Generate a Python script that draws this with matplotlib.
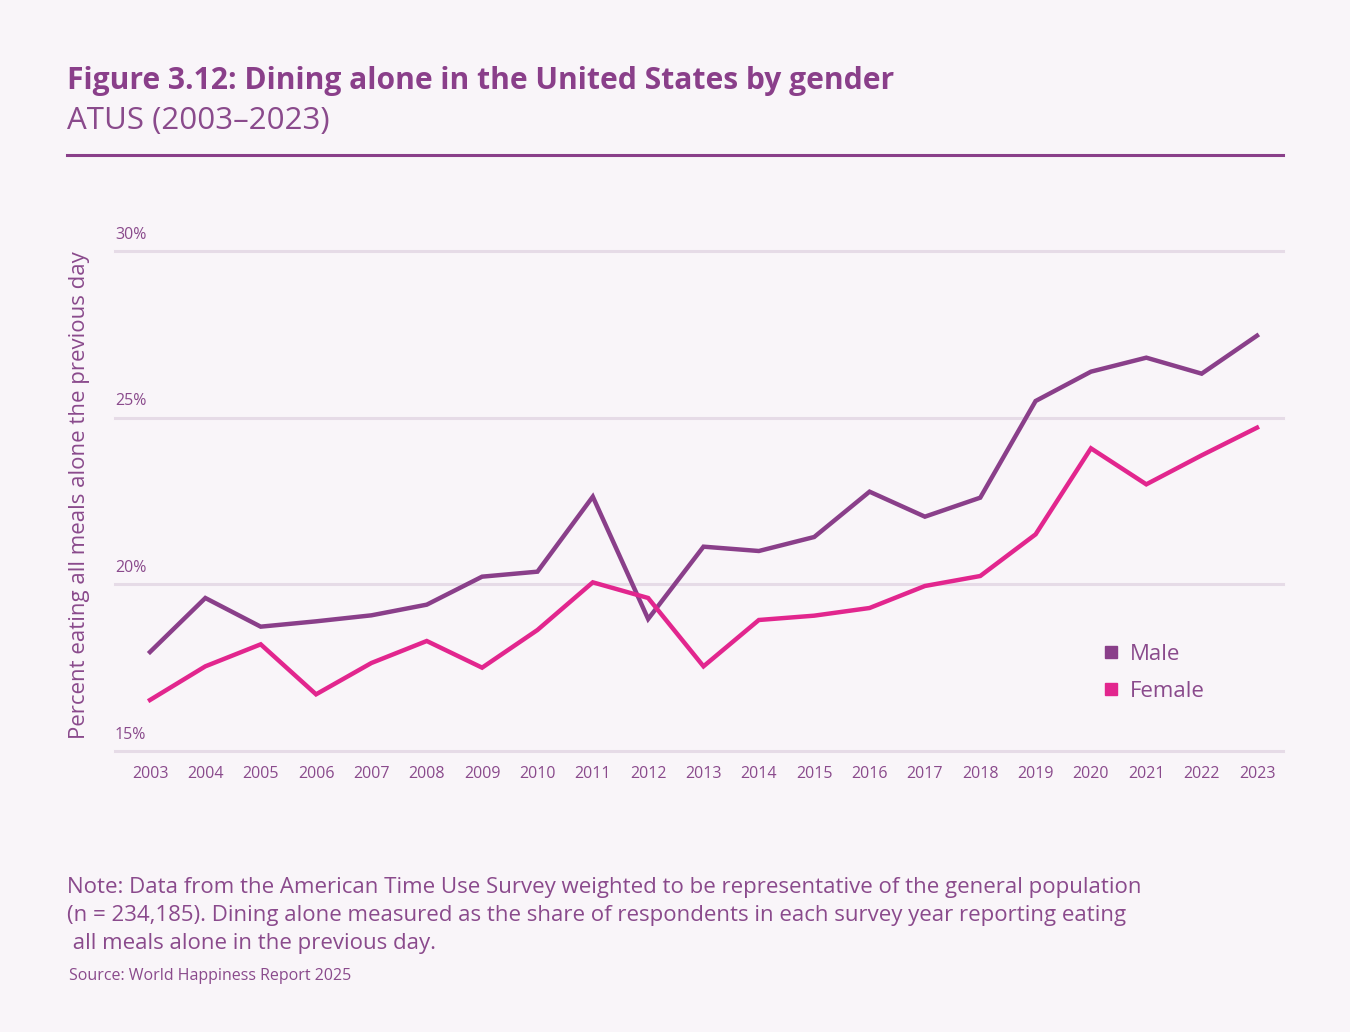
import matplotlib
matplotlib.use("Agg")
import matplotlib.pyplot as plt
from matplotlib.lines import Line2D

years = list(range(2003, 2024))
male = [17.97, 19.59, 18.73, 18.89, 19.07, 19.39, 20.23, 20.38, 22.63, 18.96,
        21.13, 21.0, 21.42, 22.78, 22.03, 22.6, 25.5, 26.38, 26.8, 26.32, 27.46]
female = [16.53, 17.54, 18.2, 16.7, 17.64, 18.3, 17.5, 18.63, 20.06, 19.59,
          17.54, 18.93, 19.06, 19.29, 19.95, 20.25, 21.5, 24.08, 23.0, 23.87, 24.7]
yticks = [15, 20, 25, 30]
ytick_labels = ["15%", "20%", "25%", "30%"]

BG = "#f9f5f9"
PURPLE = "#8a3f8a"
PINK = "#e2268e"
TXT = "#8a4a8c"
GRID = "#e6dbe7"
FONT = ["Open Sans", "DejaVu Sans"]

plt.rcParams["font.family"] = FONT

fig = plt.figure(figsize=(13.5, 10.32), dpi=100, facecolor=BG)
W, H = 1350, 1032

def fx(px):
    return px / W

def fy(py):
    return 1 - py / H

ax = fig.add_axes([fx(115), fy(751), fx(1283) - fx(115), fy(251) - fy(751)])
ax.set_facecolor(BG)
ax.set_xlim(2003 - 35 / 55.35, 2023 + 26 / 55.35)
ax.set_ylim(15, 30)

for y in yticks:
    ax.axhline(y, color=GRID, lw=2.2, zorder=1, clip_on=False)

ax.plot(years, male, color=PURPLE, lw=3.2, zorder=3, solid_joinstyle="miter")
ax.plot(years, female, color=PINK, lw=3.2, zorder=3, solid_joinstyle="miter")

for s in ax.spines.values():
    s.set_visible(False)
ax.set_yticks([])
ax.set_xticks(years)
ax.set_xticklabels([str(y) for y in years], fontsize=11.5, color=TXT)
ax.tick_params(axis="x", length=0, pad=11)

for y, lab in zip(yticks, ytick_labels):
    ax.annotate(lab, xy=(0, y), xycoords=("axes fraction", "data"),
                xytext=(0, 6), textcoords="offset points",
                ha="left", va="bottom", fontsize=11.5, color=TXT)

fig.text(fx(80), fy(495), "Percent eating all meals alone the previous day",
         rotation=90, ha="center", va="center", fontsize=16, color=TXT)

# Legend
leg_handles = [
    Line2D([0], [0], marker="s", color="none", markerfacecolor=PURPLE,
           markeredgecolor=PURPLE, markersize=8, label="Male"),
    Line2D([0], [0], marker="s", color="none", markerfacecolor=PINK,
           markeredgecolor=PINK, markersize=8, label="Female"),
]
leg = fig.legend(handles=leg_handles, loc="upper left",
                 bbox_to_anchor=(fx(1082), fy(624)), frameon=False,
                 fontsize=16, handlelength=0.8, handletextpad=0.45,
                 labelspacing=0.7, labelcolor=TXT)

# Title block
fig.text(fx(67), fy(81), "Figure 3.12: Dining alone in the United States by gender",
         ha="left", va="center", fontsize=21.6, fontweight="bold", color=PURPLE)
fig.text(fx(67), fy(121), "ATUS (2003\u20132023)",
         ha="left", va="center", fontsize=22.5, color=TXT)
fig.add_artist(Line2D([fx(67), fx(1283)], [fy(155), fy(155)],
                      transform=fig.transFigure, color=PURPLE, lw=2.2))

note_lines = [
    "Note: Data from the American Time Use Survey weighted to be representative of the general population",
    "(n = 234,185). Dining alone measured as the share of respondents in each survey year reporting eating",
    " all meals alone in the previous day.",
]
for i, line in enumerate(note_lines):
    fig.text(fx(67), fy(887 + 28 * i), line, ha="left", va="center",
             fontsize=16, color=TXT)
fig.text(fx(69), fy(976), "Source: World Happiness Report 2025",
         ha="left", va="center", fontsize=11.5, color=TXT)

fig.savefig("out.png", dpi=100, facecolor=BG)
